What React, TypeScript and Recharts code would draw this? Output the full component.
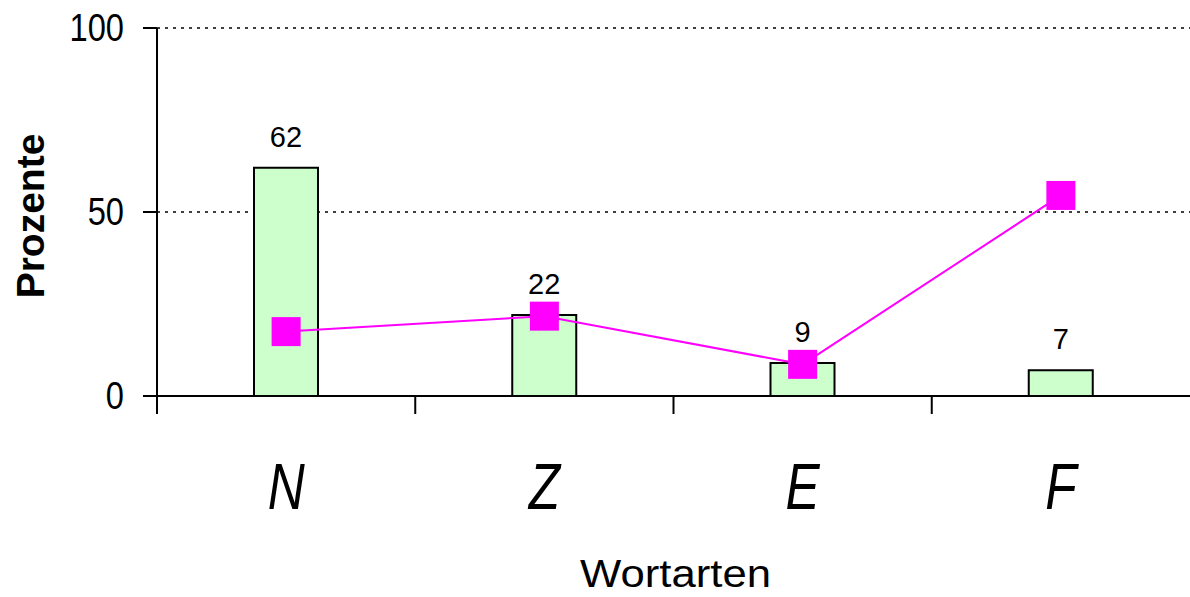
import React from 'react';
import { ComposedChart, Bar, Line, XAxis, YAxis, CartesianGrid, LabelList } from 'recharts';

const categories = ['N', 'Z', 'E', 'F'];
const barValues = [62, 22, 9, 7];
const lineValues = [17.5, 21.7, 8.6, 54.5];
const yTicks = [0, 50, 100];

const data = categories.map((name, i) => ({ name, anteil: barValues[i], vergleich: lineValues[i] }));

const FONT = '"Liberation Sans", Arial, sans-serif';
const W = 1190;
const H = 597;
const PLOT_LEFT = 157;

// category labels: tall, narrow italic letters; tick marks sit on category borders
const XTick = (props: any) => {
  const { x, y, payload } = props;
  const half = (W - PLOT_LEFT) / categories.length / 2;
  return (
    <g>
      <line x1={x - half} x2={x - half} y1={y} y2={y + 18} stroke="#000" strokeWidth={2} />
      <text
        transform={`translate(${x},${y + 113}) scale(0.8,1)`}
        textAnchor="middle"
        fontStyle="italic"
        fontSize={64}
        fontFamily={FONT}
        fill="#000"
      >
        {payload.value}
      </text>
    </g>
  );
};

const YTick = (props: any) => {
  const { x, y, payload } = props;
  return (
    <text
      transform={`translate(${x},${y + 13}) scale(0.86,1)`}
      textAnchor="end"
      fontSize={38}
      fontFamily={FONT}
      fill="#000"
    >
      {payload.value}
    </text>
  );
};

const Square = (props: any) => {
  const { cx, cy } = props;
  if (cx == null || cy == null) return null;
  return <rect x={cx - 14.5} y={cy - 14.5} width={29} height={29} fill="#FF00FF" />;
};

const App = () => {
  return (
    <div style={{ position: 'absolute', left: 0, top: 0, background: '#fff' }}>
      <ComposedChart width={W} height={H} data={data} margin={{ top: 28, right: 0, left: 0, bottom: 0 }}>
        <CartesianGrid horizontal vertical={false} stroke="#000" strokeDasharray="3 5" strokeWidth={1.5} />
        <XAxis
          dataKey="name"
          height={201}
          tickLine={false}
          tickSize={0}
          tickMargin={0}
          axisLine={{ stroke: '#000', strokeWidth: 2 }}
          tick={<XTick />}
          label={(p: any) => {
            const vb = p.viewBox;
            return (
              <text
                transform={`translate(${vb.x + vb.width / 2 + 2},${vb.y + 191}) scale(1.15,1)`}
                textAnchor="middle"
                fontSize={38}
                fontFamily={FONT}
                fill="#000"
              >
                Wortarten
              </text>
            );
          }}
        />
        <YAxis
          width={PLOT_LEFT}
          domain={[0, 100]}
          ticks={yTicks}
          interval={0}
          tickSize={14}
          tickMargin={19}
          axisLine={{ stroke: '#000', strokeWidth: 2 }}
          tickLine={{ stroke: '#000', strokeWidth: 2 }}
          tick={<YTick />}
          label={(p: any) => {
            const vb = p.viewBox;
            const cx = vb.x + 30;
            const cy = vb.y + vb.height / 2 + 4;
            return (
              <text
                x={cx}
                y={cy}
                transform={`rotate(-90 ${cx} ${cy})`}
                textAnchor="middle"
                dominantBaseline="central"
                fontSize={39}
                fontWeight="bold"
                fontFamily={FONT}
                fill="#000"
              >
                Prozente
              </text>
            );
          }}
        />
        <Bar dataKey="anteil" barSize={64} fill="#CCFFCC" stroke="#000" strokeWidth={2} isAnimationActive={false}>
          <LabelList dataKey="anteil" position="top" offset={21} fontSize={29} fontFamily={FONT} fill="#000" />
        </Bar>
        <Line dataKey="vergleich" stroke="#FF00FF" strokeWidth={2} dot={<Square />} activeDot={false} isAnimationActive={false} />
      </ComposedChart>
    </div>
  );
};

export default App;
